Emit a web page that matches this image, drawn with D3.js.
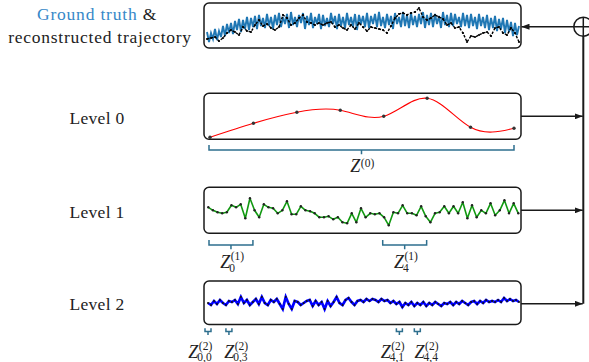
<!DOCTYPE html>
<html>
<head>
<meta charset="utf-8">
<script src="https://cdn.jsdelivr.net/npm/d3@7"></script>
<style>
  body { margin: 0; background: #fff; }
  svg { display: block; }
</style>
</head>
<body>
<div id="chart"></div>
<script>
// ground truth (blue band) and reconstruction (black dotted), height above box floor
const truth = [
  16, 6, 15, 9, 19, 8, 17, 11, 22, 12,
  24, 15, 25, 14, 27, 18, 29, 16, 28, 19,
  31, 18, 30, 21, 32, 19, 33, 22, 30, 20,
  34, 22, 31, 19, 33, 23, 35, 21, 31, 24,
  34, 20, 36, 23, 31, 21, 33, 25, 35, 19,
  32, 23, 35, 20, 31, 24, 34, 19, 33, 22,
  30, 21, 35, 24, 32, 19, 34, 22, 31, 20,
  35, 23, 31, 21, 34, 18, 33, 24, 32, 21,
  35, 20, 32, 24, 34, 21, 36, 22, 31, 20,
  34, 23, 32, 19, 35, 24, 31, 21, 36, 22,
  33, 20, 35, 23, 32, 21, 34, 24, 36, 20,
  33, 23, 35, 21, 34, 24, 32, 20, 36, 23,
  33, 21, 35, 22, 34, 24, 31, 21, 35, 22,
  33, 20, 34, 22, 31, 19, 34, 22, 31, 20,
  33, 18, 30, 20, 32, 17, 29, 19, 30, 15,
  28, 16, 26, 12, 25, 13, 22
];
const recon = [
  9, 10, 11, 7, 10, 15, 18, 16, 13, 21,
  17, 16, 23, 28, 22, 24, 20, 18, 21, 33,
  30, 23, 25, 30, 33, 26, 25, 23, 25, 23,
  25, 26, 21, 23, 20, 18, 23, 19, 25, 21,
  17, 21, 20, 19, 18, 15, 22, 30, 34, 35,
  33, 35, 36, 40, 31, 28, 30, 33, 31, 29,
  23, 25, 20, 21, 15, 6, 12, 11, 13, 15,
  16, 12, 20, 21, 15, 13, 20, 15, 6
];
const level0 = [2, 16, 27, 29, 23, 41, 12, 11];
const level1 = [
  26, 23, 21, 20, 21, 28, 26, 29, 15, 35,
  23, 16, 29, 26, 25, 20, 23, 32, 19, 19,
  27, 23, 22, 20, 16, 16, 17, 14, 16, 11,
  10, 20, 11, 25, 16, 20, 19, 20, 16, 8,
  21, 20, 28, 20, 20, 18, 27, 17, 11, 20,
  21, 27, 20, 27, 20, 31, 15, 28, 16, 23,
  20, 30, 18, 23, 33, 20, 30, 20
];
const level2 = [
  0, -2, 2, -1, 3, 0, -2, 2, 1, 3,
  -1, 6, 0, 3, -2, 1, 4, -1, 6, 0,
  -2, 3, 1, 4, -1, -6, 6, -1, -6, 2,
  1, -2, 0, 2, 3, -3, 2, -2, 1, -6,
  2, -3, 1, 6, 0, -2, 3, 5, 1, -2,
  2, 3, 1, 4, 2, 4, 3, 1, 4, 2,
  3, 0, 2, -1, 1, -4, 0, -2, 1, -3,
  0, -2, 1, -3, 0, -2, 1, -1, -3, 0,
  -1, 1, -2, 1, -1, 2, 0, -2, 1, 2,
  -1, 2, 0, 3, 1, 2, 1, 3, 1, 5,
  2, 4, 2, 3, 1
];
const levelNames = ["Level 0", "Level 1", "Level 2"];
const level1Marks = [0, 4];
const level2Marks = [[0, 0], [0, 3], [4, 1], [4, 4]];
const level2MarkAt = [0, 7, 64, 70];   // sample index in level2

const W = 589, H = 362;
const boxL = 204, boxR = 521;
const boxes = [
  {top: 3, bottom: 48},
  {top: 93.3, bottom: 139.3},
  {top: 187.3, bottom: 233.3},
  {top: 281, bottom: 324.5}
];
const braceColor = "#2e6f8e";
const ink = "#1a1a1a";
const serif = "'Liberation Serif', 'DejaVu Serif', 'Times New Roman', serif";

const svg = d3.select("#chart").append("svg")
  .attr("width", W).attr("height", H)
  .attr("font-family", serif);

svg.append("defs").append("marker")
  .attr("id", "arr")
  .attr("viewBox", "0 0 8 6")
  .attr("refX", 8).attr("refY", 3)
  .attr("markerWidth", 8).attr("markerHeight", 6)
  .attr("markerUnits", "userSpaceOnUse")
  .attr("orient", "auto")
  .append("path").attr("d", "M0,0L8,3L0,6z").attr("fill", ink);

// boxes
svg.append("g").selectAll("rect")
  .data(boxes)
  .join("rect")
    .attr("x", boxL).attr("y", d => d.top)
    .attr("width", boxR - boxL).attr("height", d => d.bottom - d.top)
    .attr("rx", 5)
    .attr("fill", "#fff").attr("stroke", ink).attr("stroke-width", 1.5);

// ---- top panel
let xTruth = d3.scaleLinear().domain([0, truth.length - 1]).range([207, 519]);
let xRecon = d3.scaleLinear().domain([0, recon.length - 1]).range([207, 519]);
let yTop = d3.scaleLinear().domain([0, 45]).range([boxes[0].bottom, boxes[0].top]);

svg.append("path")
  .datum(truth)
  .attr("fill", "none").attr("stroke", "#1f77b4").attr("stroke-width", 1.9)
  .attr("d", d3.line().x((d, i) => xTruth(i)).y(d => yTop(d)));

svg.append("path")
  .datum(recon)
  .attr("fill", "none").attr("stroke", "#000").attr("stroke-width", 1.4)
  .attr("stroke-dasharray", "2.5,1.5")
  .attr("d", d3.line().x((d, i) => xRecon(i)).y(d => yTop(d)));

svg.append("g").selectAll("circle")
  .data(recon)
  .join("circle")
    .attr("cx", (d, i) => xRecon(i)).attr("cy", d => yTop(d))
    .attr("r", 1.1).attr("fill", "#000");

// ---- level 0
let x0 = d3.scaleLinear().domain([0, level0.length - 1]).range([210, 514]);
let y0 = d3.scaleLinear().domain([0, 46]).range([boxes[1].bottom, boxes[1].top]);

svg.append("path")
  .datum(level0)
  .attr("fill", "none").attr("stroke", "#f00").attr("stroke-width", 1.1)
  .attr("d", d3.line().x((d, i) => x0(i)).y(d => y0(d)).curve(d3.curveNatural));

svg.append("g").selectAll("circle")
  .data(level0)
  .join("circle")
    .attr("cx", (d, i) => x0(i)).attr("cy", d => y0(d))
    .attr("r", 1.7).attr("fill", "#333");

// ---- level 1
let x1 = d3.scaleLinear().domain([0, level1.length - 1]).range([208.3, 518.3]);
let y1 = d3.scaleLinear().domain([0, 46]).range([boxes[2].bottom, boxes[2].top]);

svg.append("path")
  .datum(level1)
  .attr("fill", "none").attr("stroke", "#119911").attr("stroke-width", 1.6)
  .attr("stroke-linejoin", "round")
  .attr("d", d3.line().x((d, i) => x1(i)).y(d => y1(d)));

svg.append("g").selectAll("circle")
  .data(level1)
  .join("circle")
    .attr("cx", (d, i) => x1(i)).attr("cy", d => y1(d))
    .attr("r", 1.2).attr("fill", "#222");

// ---- level 2
let x2 = d3.scaleLinear().domain([0, level2.length - 1]).range([208, 519]);
let y2 = d3.scaleLinear().domain([-22, 22]).range([325, 281]);

svg.append("path")
  .datum(level2)
  .attr("fill", "none").attr("stroke", "#0000ff").attr("stroke-width", 2.7)
  .attr("d", d3.line().x((d, i) => x2(i)).y(d => y2(d)));

svg.append("g").selectAll("circle")
  .data(level2)
  .join("circle")
    .attr("cx", (d, i) => x2(i)).attr("cy", d => y2(d))
    .attr("r", 1).attr("fill", "#111");

// ---- left labels
const head = svg.append("text")
  .attr("x", 97).attr("y", 20).attr("text-anchor", "middle")
  .attr("font-family", serif)
  .attr("font-size", 17.5).attr("letter-spacing", 0.8);
head.append("tspan").attr("fill", "#3788c8").text("Ground truth");
head.append("tspan").attr("fill", "#222").text(" &");
svg.append("text")
  .attr("x", 100).attr("y", 43).attr("text-anchor", "middle")
  .attr("font-family", serif)
  .attr("font-size", 17.5).attr("letter-spacing", 0.75)
  .attr("fill", "#222").text("reconstructed trajectory");

svg.append("g").selectAll("text")
  .data(levelNames)
  .join("text")
    .attr("x", 97)
    .attr("y", (d, i) => (boxes[i + 1].top + boxes[i + 1].bottom) / 2 + 7.5)
    .attr("text-anchor", "middle")
    .attr("font-family", serif)
    .attr("font-size", 17.5)
    .attr("letter-spacing", 0.3).attr("fill", "#222")
    .text(d => d);

// ---- braces
function brace(xa, xb, yTop, yMid, yBot) {
  const xc = (xa + xb) / 2;
  svg.append("path")
    .attr("d", `M${xa},${yTop}V${yMid}H${xb}V${yTop}M${xc},${yMid}V${yBot}`)
    .attr("fill", "none").attr("stroke", braceColor).attr("stroke-width", 1.5);
}

function mathLabel(cx, base, sup, sub, raise, drop) {
  const g = svg.append("g").attr("fill", "#222").attr("font-family", serif);
  const z = g.append("text").attr("font-style", "italic").attr("font-size", 18)
    .attr("y", base).text("Z");
  const zw = z.node().getComputedTextLength();
  const s1 = g.append("text").attr("font-size", 11.5)
    .attr("x", zw + 0.5).attr("y", base - raise).text(sup);
  let w = s1.node().getComputedTextLength();
  if (sub) {
    const s2 = g.append("text").attr("font-size", 11.5)
      .attr("x", zw - 1).attr("y", base + drop).text(sub);
    w = Math.max(w, s2.node().getComputedTextLength() - 1.5);
  }
  g.attr("transform", `translate(${cx - (zw + w) / 2},0)`);
}

brace(x0(0) - 1, x0(level0.length - 1), 145, 150, 154.3);
mathLabel(362, 172, "(0)", null, 5, 0);

level1Marks.forEach(k => {
  const a = x0(k) - 1, b = x0(k + 1) - 0.5;
  brace(a, b, 240, 245, 249.3);
  mathLabel((a + b) / 2 + 1, 268, "(1)", String(k), 8.5, 4);
});

const nudge2 = [-8, 7, -7, 9];
level2Marks.forEach((m, j) => {
  const c = x2(level2MarkAt[j]);
  brace(c - 3, c + 3, 328.3, 331.5, 335);
  mathLabel(c + nudge2[j], 358, "(2)", m.join(","), 8.5, 2.5);
});

// ---- summation path on the right
const sx = 583.3, sy = 26.7, sr = 9.5;
svg.append("circle").attr("cx", sx).attr("cy", sy).attr("r", sr)
  .attr("fill", "none").attr("stroke", ink).attr("stroke-width", 1.5);
svg.append("path")
  .attr("d", `M${sx - sr},${sy}H${sx + sr}M${sx},${sy - sr}V${sy + sr}`)
  .attr("stroke", ink).attr("stroke-width", 1.5);
svg.append("line")
  .attr("x1", sx).attr("x2", sx).attr("y1", sy + sr)
  .attr("y2", (boxes[3].top + boxes[3].bottom) / 2 + 1)
  .attr("stroke", ink).attr("stroke-width", 2);
svg.append("line")
  .attr("x1", sx - sr).attr("x2", boxR + 0.5).attr("y1", sy).attr("y2", sy)
  .attr("stroke", ink).attr("stroke-width", 1.5).attr("marker-end", "url(#arr)");

svg.append("g").selectAll("line")
  .data(boxes.slice(1))
  .join("line")
    .attr("x1", boxR).attr("x2", sx - 0.5)
    .attr("y1", (d, i) => (d.top + d.bottom) / 2 + (i === 2 ? 1 : 0))
    .attr("y2", (d, i) => (d.top + d.bottom) / 2 + (i === 2 ? 1 : 0))
    .attr("stroke", ink).attr("stroke-width", 1.5).attr("marker-end", "url(#arr)");
</script>
</body>
</html>
